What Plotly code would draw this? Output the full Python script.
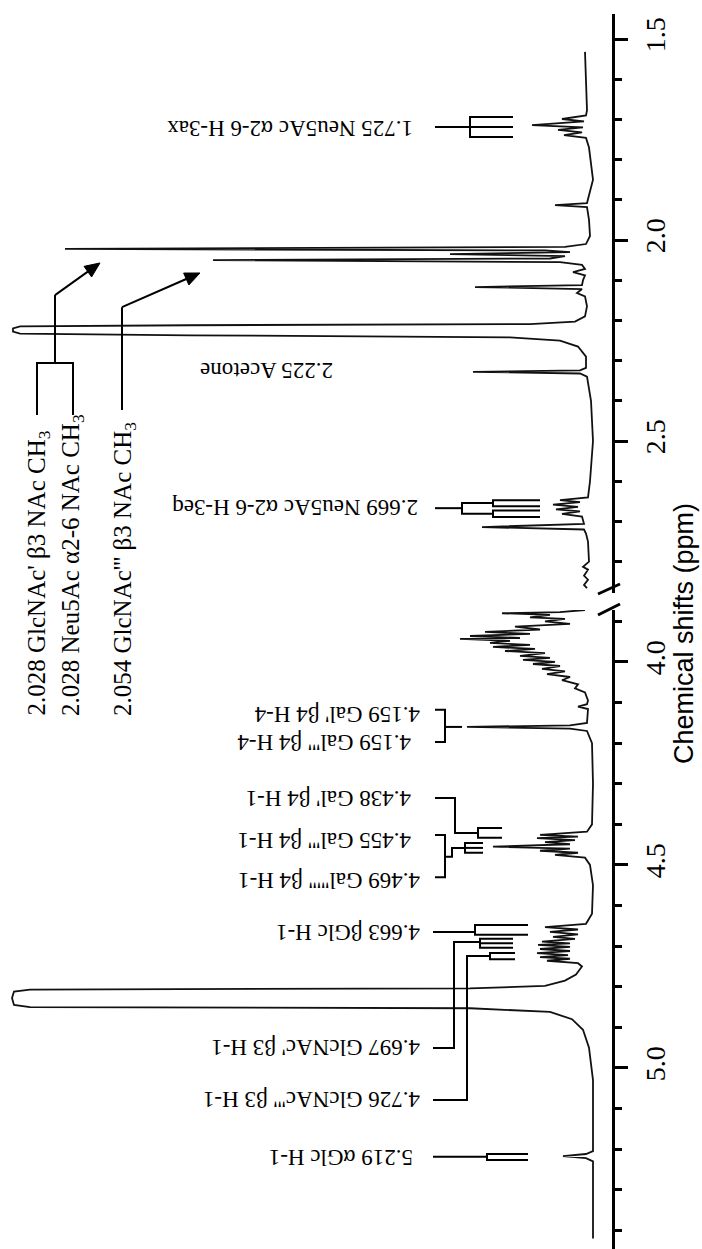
import math
import plotly.graph_objects as go

# ---------------- data ----------------
# upfield segment (1.4 - 2.9 ppm): chemical shift and relative intensity
upfield_ppm = [1.532, 1.600, 1.677, 1.690, 1.699, 1.705, 1.714, 1.720, 1.726, 1.732, 1.739, 1.746,
               1.770, 1.850, 1.900, 1.908, 1.913, 1.918, 1.950, 1.990, 2.010, 2.017, 2.022, 2.026,
               2.030, 2.035, 2.040, 2.046, 2.050, 2.055, 2.062, 2.072, 2.080, 2.088, 2.100, 2.112,
               2.117, 2.122, 2.132, 2.140, 2.165, 2.190, 2.203, 2.209, 2.212, 2.215, 2.220, 2.228,
               2.233, 2.237, 2.242, 2.250, 2.265, 2.290, 2.318, 2.324, 2.328, 2.332, 2.340, 2.400,
               2.500, 2.600, 2.640, 2.647, 2.652, 2.658, 2.664, 2.670, 2.675, 2.681, 2.688, 2.706,
               2.714, 2.720, 2.730, 2.750, 2.800, 2.813, 2.820, 2.835, 2.845, 2.858, 2.866]
upfield_int = [5, 4, 3, 4, 28, 6, 58, 7, 32, 8, 26, 4,
               1, -3, 2, 3, 35, 3, 1, 0, 4, 25, 525, 45,
               20, 140, 25, 40, 377, 30, 8, 5, 17, 5, 7, 8,
               115, 8, 13, 5, 3, 5, 15, 60, 400, 570, 577, 577,
               570, 400, 80, 30, 12, 4, 4, 10, 117, 10, 3, -1,
               -3, 0, 2, 30, 10, 37, 12, 34, 10, 28, 8, 6,
               108, 6, 4, 2, 1, 7, 2, 6, 2, 6, 3]

# downfield segment (3.85 - 5.45 ppm)
downfield_ppm = [3.872, 3.877, 3.880, 3.884, 3.890, 3.894, 3.900, 3.906, 3.913, 3.920, 3.926, 3.931,
                 3.936, 3.941, 3.943, 3.948, 3.953, 3.958, 3.963, 3.968, 3.973, 3.978, 3.985, 3.990,
                 3.995, 4.000, 4.005, 4.010, 4.017, 4.023, 4.030, 4.037, 4.045, 4.055, 4.065, 4.075,
                 4.095, 4.104, 4.110, 4.116, 4.150, 4.156, 4.160, 4.164, 4.170, 4.200, 4.300, 4.400,
                 4.418, 4.426, 4.430, 4.434, 4.439, 4.444, 4.449, 4.455, 4.460, 4.465, 4.470, 4.475,
                 4.482, 4.500, 4.550, 4.620, 4.645, 4.653, 4.659, 4.665, 4.671, 4.677, 4.682, 4.689,
                 4.693, 4.697, 4.702, 4.707, 4.712, 4.717, 4.722, 4.727, 4.731, 4.736, 4.742, 4.750,
                 4.770, 4.785, 4.798, 4.804, 4.807, 4.812, 4.828, 4.845, 4.850, 4.853, 4.862, 4.880,
                 4.906, 4.950, 5.030, 5.205, 5.212, 5.217, 5.222, 5.230, 5.300, 5.420]
downfield_int = [5, 30, 88, 40, 60, 25, 45, 20, 75, 50, 105, 60,
                 120, 70, 130, 80, 100, 60, 97, 55, 85, 45, 70, 40,
                 67, 35, 57, 30, 48, 25, 43, 20, 28, 12, 15, 5,
                 2, 3, 12, 2, 3, 20, 123, 20, 3, -2, -3, -2,
                 3, 50, 12, 53, 15, 45, 20, 97, 20, 50, 12, 35,
                 5, 0, -3, -2, 4, 45, 12, 40, 12, 37, 15, 48,
                 20, 52, 20, 50, 20, 53, 22, 50, 20, 43, 12, 8,
                 14, 25, 45, 120, 560, 576, 578, 576, 560, 120, 40, 18,
                 7, 1, -3, -3, 4, 27, 4, -3, -3, -3]

upfield_tick_vals = [1.5, 2.0, 2.5]
upfield_tick_text = ["1.5", "2.0", "2.5"]
downfield_tick_vals = [4.0, 4.5, 5.0]
downfield_tick_text = ["4.0", "4.5", "5.0"]

# assignment labels (upside-down text beside the peaks)
upfield_labels = ["1.725 Neu5Ac α2-6 H-3ax", "2.669 Neu5Ac α2-6 H-3eq", "2.225 Acetone"]
upfield_label_ppm = [1.721, 2.667, 2.323]
downfield_labels = ["4.159 Gal' β4 H-4", "4.159 Gal''' β4 H-4", "4.438 Gal' β4 H-1",
                    "4.455 Gal''' β4 H-1", "4.469 Gal''''' β4 H-1", "4.663 βGlc H-1",
                    "4.697 GlcNAc' β3 H-1", "4.726 GlcNAc''' β3 H-1", "5.219 αGlc H-1"]
downfield_label_ppm = [4.131, 4.200, 4.335, 4.438, 4.537, 4.665, 4.951, 5.079, 5.219]
# methyl labels (vertical text at the left)
methyl_labels = ["2.028 GlcNAc' β3 NAc CH<sub>3</sub>", "2.028 Neu5Ac α2-6 NAc CH<sub>3</sub>",
                 "2.054 GlcNAc''' β3 NAc CH<sub>3</sub>"]

# ---------------- layout geometry ----------------
W, H = 702, 1249
R_MARGIN = 90
PLOT_W = W - R_MARGIN
I_LEFT, I_RIGHT = 590, -22            # intensity range (reversed, grows to the left)
UP_RANGE = [2.878, 1.4378]            # ppm (bottom, top)
DOWN_RANGE = [5.446, 3.872]
UP_DOMAIN = [1 - 593 / H, 1 - 14 / H]
DOWN_DOMAIN = [0.0, 1 - 610 / H]
PX_PER_PPM_UP = (UP_DOMAIN[1] - UP_DOMAIN[0]) * H / (UP_RANGE[0] - UP_RANGE[1])

def px(xp):
    return xp / PLOT_W

def py(yp):
    return 1 - yp / H

serif = "Liberation Serif"
sans = "Liberation Sans"
LINE = dict(color="black", width=2)

fig = go.Figure()
fig.add_trace(go.Scatter(x=upfield_int, y=upfield_ppm, mode="lines", xaxis="x", yaxis="y",
                         line=dict(color="#111111", width=1.8), hoverinfo="skip"))
fig.add_trace(go.Scatter(x=downfield_int, y=downfield_ppm, mode="lines", xaxis="x2", yaxis="y2",
                         line=dict(color="#111111", width=1.8), hoverinfo="skip"))

def path(points, xr, yr):
    d = "M " + " L ".join(f"{a},{b}" for a, b in points)
    fig.add_shape(type="path", path=d, xref=xr, yref=yr, line=LINE)

U = ("x", "y")
D = ("x2", "y2")

# 1.725 comb
path([(155, 1.719), (120, 1.719)], *U)
path([(77, 1.694), (120, 1.694), (120, 1.744), (77, 1.744)], *U)
path([(120, 1.719), (77, 1.719)], *U)
# 2.669 tree
path([(155, 2.667), (128, 2.667)], *U)
path([(97, 2.654), (128, 2.654), (128, 2.681), (97, 2.681)], *U)
path([(50, 2.647), (97, 2.647), (97, 2.662), (50, 2.662)], *U)
path([(50, 2.673), (97, 2.673), (97, 2.689), (50, 2.689)], *U)
# methyl label brackets and arrows
path([(553, 2.435), (553, 2.306), (517, 2.306), (517, 2.435)], *U)
path([(535, 2.306), (535, 2.137)], *U)
path([(468, 2.423), (468, 2.167)], *U)


def arrow(tail, tip, head_len=15, half_w=6.5):
    # work in screen pixels: x_px = -I, y_px = ppm * scale
    tx, ty = -tip[0], tip[1] * PX_PER_PPM_UP
    sx, sy = -tail[0], tail[1] * PX_PER_PPM_UP
    dx, dy = tx - sx, ty - sy
    L = math.hypot(dx, dy)
    ux, uy = dx / L, dy / L
    bx, by = tx - head_len * ux, ty - head_len * uy
    pxv, pyv = -uy, ux
    c1 = (bx + half_w * pxv, by + half_w * pyv)
    c2 = (bx - half_w * pxv, by - half_w * pyv)
    to_data = lambda p: (-p[0], p[1] / PX_PER_PPM_UP)
    path([tail, to_data((bx, by))], *U)
    pts = [tip, to_data(c1), to_data(c2)]
    d = "M " + " L ".join(f"{a},{b}" for a, b in pts) + " Z"
    fig.add_shape(type="path", path=d, xref="x", yref="y", fillcolor="black",
                  line=dict(color="black", width=1))


arrow((535, 2.137), (490, 2.057))
arrow((468, 2.167), (390, 2.082))

# 4.159 pair
path([(155, 4.118), (145, 4.118), (145, 4.197), (155, 4.197)], *D)
path([(145, 4.160), (128, 4.160)], *D)
# 4.438
path([(155, 4.335), (135, 4.335), (135, 4.421), (112, 4.421)], *D)
path([(88, 4.409), (112, 4.409), (112, 4.433), (88, 4.433)], *D)
# 4.455 / 4.469
path([(155, 4.426), (145, 4.426), (145, 4.530), (155, 4.530)], *D)
path([(145, 4.480), (138, 4.480), (138, 4.458), (125, 4.458)], *D)
path([(107, 4.446), (125, 4.446), (125, 4.470), (107, 4.470)], *D)
path([(125, 4.458), (107, 4.458)], *D)
# 4.663
path([(157, 4.665), (115, 4.665)], *D)
path([(62, 4.648), (115, 4.648), (115, 4.672), (62, 4.672)], *D)
# 4.697
path([(157, 4.951), (136, 4.951), (136, 4.690), (110, 4.690)], *D)
path([(77, 4.682), (110, 4.682), (110, 4.704), (77, 4.704)], *D)
path([(110, 4.693), (77, 4.693)], *D)
# 4.726
path([(157, 5.079), (123, 5.079), (123, 4.724), (100, 4.724)], *D)
path([(75, 4.717), (100, 4.717), (100, 4.732), (75, 4.732)], *D)
# 5.219
path([(157, 5.219), (103, 5.219)], *D)
path([(62, 5.212), (103, 5.212), (103, 5.227), (62, 5.227)], *D)

# axis break marks
for y0, y1 in [(594, 584), (615, 604)]:
    fig.add_shape(type="line", xref="paper", yref="paper", x0=px(598), y0=py(y0),
                  x1=px(620), y1=py(y1), line=dict(color="black", width=3))

# label texts
up_right = [175, 170, 255]
for t, p, xr in zip(upfield_labels, upfield_label_ppm, up_right):
    fig.add_annotation(x=xr, y=p, xref="x", yref="y", text=t, showarrow=False, textangle=180,
                       xanchor="right", yanchor="middle", font=dict(family=serif, size=23, color="black"))
down_right = [168, 177, 177, 177, 168, 168, 168, 168, 175]
for t, p, xr in zip(downfield_labels, downfield_label_ppm, down_right):
    fig.add_annotation(x=xr, y=p, xref="x2", yref="y2", text=t, showarrow=False, textangle=180,
                       xanchor="right", yanchor="middle", font=dict(family=serif, size=23, color="black"))
for t, xc in zip(methyl_labels, [552, 518, 466]):
    fig.add_annotation(x=xc, y=py(718), xref="x", yref="paper", text=t, showarrow=False,
                       textangle=-90, xanchor="center", yanchor="bottom",
                       font=dict(family=serif, size=25, color="black"))

fig.add_annotation(x=px(684), y=py(634), xref="paper", yref="paper", text="Chemical shifts (ppm)",
                   showarrow=False, textangle=-90, xanchor="center", yanchor="middle", borderpad=0,
                   font=dict(family=sans, size=27, color="black"))

yax_common = dict(side="right", showline=True, linewidth=3, linecolor="black", ticks="outside",
                  ticklen=13, tickwidth=3, tickcolor="black", tickangle=-90, showgrid=False,
                  zeroline=False, ticklabelstandoff=3,
                  tickfont=dict(family=serif, size=28, color="black"),
                  minor=dict(dtick=0.1, tick0=0, ticks="outside", ticklen=7, tickwidth=2.5,
                             tickcolor="black", showgrid=False))
xax_common = dict(visible=False, range=[I_LEFT, I_RIGHT], domain=[0, 1], showgrid=False, zeroline=False)

fig.update_layout(
    width=W, height=H, margin=dict(l=0, r=R_MARGIN, t=0, b=0),
    paper_bgcolor="white", plot_bgcolor="white", showlegend=False,
    xaxis=dict(anchor="y", **xax_common),
    xaxis2=dict(anchor="y2", matches="x", **xax_common),
    yaxis=dict(anchor="x", domain=UP_DOMAIN, range=UP_RANGE, tickvals=upfield_tick_vals,
               ticktext=upfield_tick_text, **yax_common),
    yaxis2=dict(anchor="x2", domain=DOWN_DOMAIN, range=DOWN_RANGE, tickvals=downfield_tick_vals,
                ticktext=downfield_tick_text, **yax_common),
)

fig.write_html("out.html")
